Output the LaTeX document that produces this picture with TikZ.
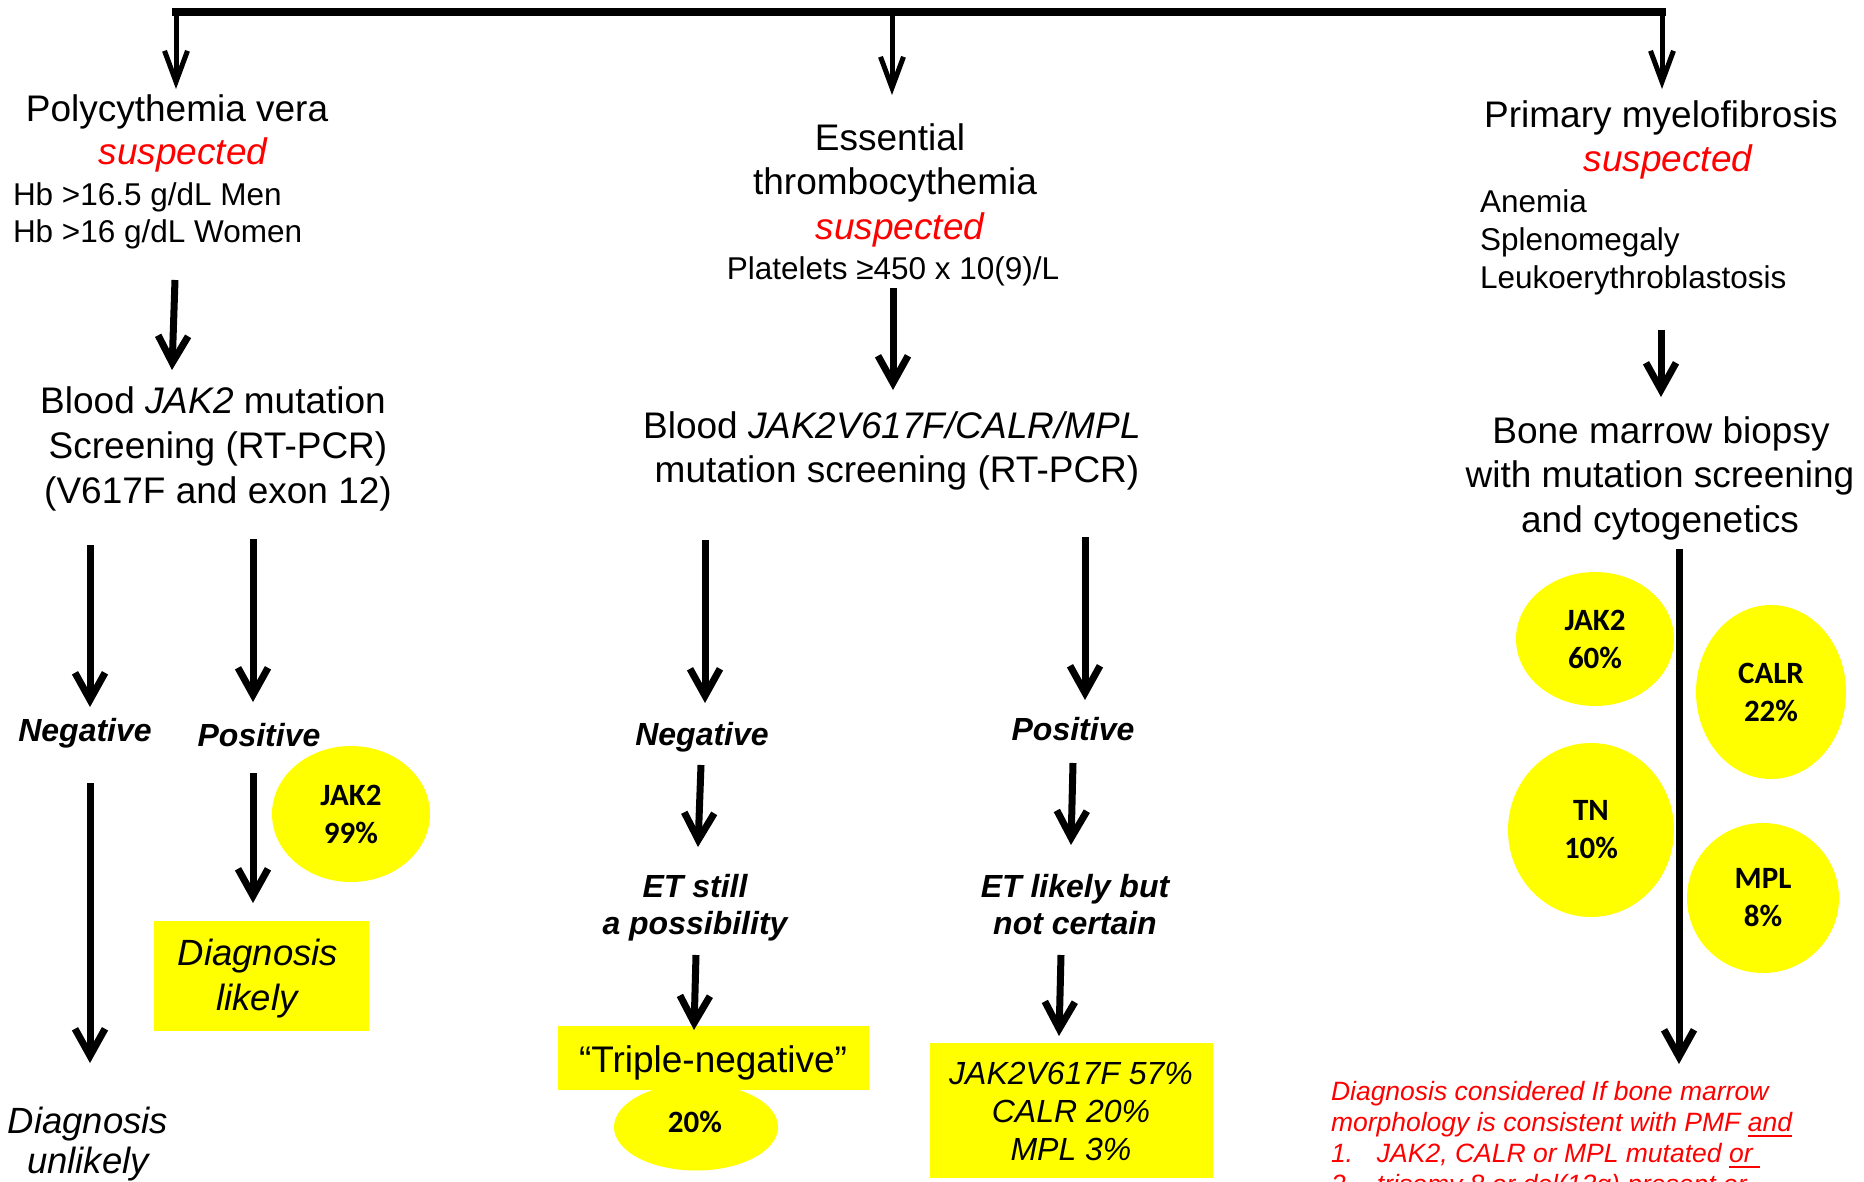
\documentclass[tikz,border=0pt]{standalone}
\usepackage{fontspec}
\setmainfont{Liberation Sans}
\newfontfamily\calfont{Carlito}
\usetikzlibrary{arrows.meta,shapes.geometric}
\definecolor{pured}{RGB}{255,0,0}
\definecolor{puyellow}{RGB}{255,255,0}
\newcommand\fsz[2]{\fontsize{#1}{#2}\selectfont}
\newcommand\redul[1]{\setbox0\hbox{#1}\rlap{\rule[-6pt]{\wd0}{2.5pt}}\box0}
\begin{document}
\begin{tikzpicture}[x=1pt,y=-1pt,
  every node/.style={inner sep=0pt, outer sep=0pt},
  tx/.style={anchor=base},
  big/.style={font=\fsz{37}{45}, anchor=base},
  bigit/.style={font=\itshape\fsz{36.5}{45}, anchor=base},
  susp/.style={font=\itshape\fsz{37}{45}, text=pured, anchor=base},
  mid/.style={font=\fsz{31.5}{38}, anchor=base},
  midw/.style={font=\fsz{31.5}{38}, anchor=base west},
  lab/.style={font=\bfseries\itshape\fsz{32}{38}, anchor=base},
  resit/.style={font=\itshape\fsz{32}{38}, anchor=base},
  redt/.style={font=\itshape\fsz{26.5}{31}, text=pured, anchor=base west},
  ybox/.style={fill=puyellow, draw=none, rectangle},
  yell/.style={ellipse, fill=puyellow, draw=none, align=center, font=\calfont\bfseries\fsz{31}{38}},
  arr/.style={line width=7pt, -{Straight Barb[length=27pt,width=30pt]}},
  toparr/.style={line width=5pt, -{Straight Barb[length=31pt,width=23pt]}},
]
\useasboundingbox (0,0) rectangle (1864,1182);
\clip (0,0) rectangle (1864,1182);
\fill[white] (0,0) rectangle (1864,1182);

% ---------- top bar ----------
\coordinate (tl) at (172,12);
\coordinate (tr) at (1666,12);
\draw[line width=8pt] (tl) -- (tr);
\coordinate (d1s) at (176,12);  \coordinate (d1e) at (176,89);
\coordinate (d2s) at (892,12);  \coordinate (d2e) at (892,95);
\coordinate (d3s) at (1662,12); \coordinate (d3e) at (1662,89);
\draw[toparr] (d1s) -- (d1e);
\draw[toparr] (d2s) -- (d2e);
\draw[toparr] (d3s) -- (d3e);

% ---------- yellow shapes ----------
\node[yell, minimum width=158pt, minimum height=136pt] (e99) at (351,814) {JAK2\\99\%};
\node[ybox, minimum width=215pt, minimum height=110pt] (dlbox) at (261.5,976) {};
\node[yell, minimum width=164pt, minimum height=87pt] (e20) at (696,1127) {};
\node[ybox, minimum width=311pt, minimum height=64pt] (tnbox) at (713.5,1058) {};
\node[ybox, minimum width=283pt, minimum height=135pt] (jbox) at (1071.5,1110.5) {};
\node[yell, minimum width=158pt, minimum height=134pt] (e60) at (1595,639) {JAK2\\60\%};
\node[yell, minimum width=150pt, minimum height=174pt] (e22) at (1771,692) {CALR\\22\%};
\node[yell, minimum width=166pt, minimum height=174pt] (e10) at (1591,830) {TN\\10\%};
\node[yell, minimum width=152pt, minimum height=150pt] (e8) at (1763,898) {MPL\\8\%};

% ---------- left column (PV) ----------
\node[big] (pv1) at (177,122) {Polycythemia vera};
\node[susp] (pv2) at (183,165) {suspected};
\node[midw] (hb1) at (13,206) {Hb >16.5 g/dL Men};
\node[midw] (hb2) at (13,243) {Hb >16 g/dL Women};
\node[big] (bj1) at (213,413) {Blood \textit{JAK2} mutation};
\node[big] (bj2) at (218,458) {Screening (RT-PCR)};
\node[big] (bj3) at (218,503) {(V617F and exon 12)};
\node[lab] (neg1) at (85,741) {Negative};
\node[lab] (pos1) at (259,746) {Positive};
\node[bigit] (dl1) at (258,965) {Diagnosis};
\node[bigit] (dl2) at (257,1010) {likely};
\node[bigit] (du1) at (88,1133) {Diagnosis};
\node[bigit] (du2) at (88,1173) {unlikely};

% ---------- centre column (ET) ----------
\node[big] (et1) at (890,151) {Essential};
\node[big] (et2) at (895,195) {thrombocythemia};
\node[susp] (et3) at (900,240) {suspected};
\node[mid] (et4) at (893,280) {Platelets ≥450 x 10(9)/L};
\node[big] (bc1) at (892,438) {Blood \textit{JAK2V617F/CALR/MPL}};
\node[big] (bc2) at (897,482) {mutation screening (RT-PCR)};
\node[lab] (neg2) at (702,745) {Negative};
\node[lab] (pos2) at (1073,740) {Positive};
\node[lab] (ets1) at (695,897) {ET still};
\node[lab] (ets2) at (695,934) {a possibility};
\node[lab] (etl1) at (1075,897) {ET likely but};
\node[lab] (etl2) at (1075,934) {not certain};
\node[big] (tn) at (713,1072) {“Triple-negative”};
\node[font=\calfont\bfseries\fsz{31}{38}, anchor=base] (t20) at (695,1132) {20\%};
\node[resit] (j1) at (1071,1084) {JAK2V617F 57\%};
\node[resit] (j2) at (1071,1122) {CALR 20\%};
\node[resit] (j3) at (1071,1160) {MPL 3\%};

% ---------- right column (PMF) ----------
\node[big] (pm1) at (1661,128) {Primary myelofibrosis};
\node[susp] (pm2) at (1668,172) {suspected};
\node[midw] (pl1) at (1480,213) {Anemia};
\node[midw] (pl2) at (1480,251) {Splenomegaly};
\node[midw] (pl3) at (1480,289) {Leukoerythroblastosis};
\node[big] (bm1) at (1661,443) {Bone marrow biopsy};
\node[big] (bm2) at (1660,487) {with mutation screening};
\node[big] (bm3) at (1660,532) {and cytogenetics};
\node[redt] (r1) at (1331,1100) {Diagnosis considered If bone marrow};
\node[redt] (r2) at (1331,1131) {morphology is consistent with PMF \redul{and}};
\node[redt] (r3) at (1331,1162) {\makebox[46pt][l]{1.}JAK2, CALR or MPL mutated \redul{or\ }};
\node[redt] (r4) at (1331,1193) {\makebox[46pt][l]{2.}trisomy 8 or del(13q) present or};

% ---------- arrow end points ----------
\coordinate (a1s) at (175,280);  \coordinate (a1e) at (172,370);
\coordinate (a2s) at (893,288);  \coordinate (a2e) at (893,390);
\coordinate (a3s) at (1661,330); \coordinate (a3e) at (1661,397);
\coordinate (a4s) at (90,545);   \coordinate (a4e) at (90,707);
\coordinate (a5s) at (253,539);  \coordinate (a5e) at (253,702);
\coordinate (a6s) at (253,773);  \coordinate (a6e) at (253,903);
\coordinate (a7s) at (90,783);   \coordinate (a7e) at (90,1063);
\coordinate (a8s) at (705,540);  \coordinate (a8e) at (705,703);
\coordinate (a9s) at (1085,537); \coordinate (a9e) at (1085,700);
\coordinate (a10s) at (701,765); \coordinate (a10e) at (698,847);
\coordinate (a11s) at (1073,763);\coordinate (a11e) at (1071,845);
\coordinate (a12s) at (696,955); \coordinate (a12e) at (694,1030);
\coordinate (a13s) at (1061,955);\coordinate (a13e) at (1059,1036);
\coordinate (a14s) at (1679,549);\coordinate (a14e) at (1679,1064);

\draw[arr] (a1s) -- (a1e);
\draw[arr] (a2s) -- (a2e);
\draw[arr] (a3s) -- (a3e);
\draw[arr] (a4s) -- (a4e);
\draw[arr] (a5s) -- (a5e);
\draw[arr] (a6s) -- (a6e);
\draw[arr] (a7s) -- (a7e);
\draw[arr] (a8s) -- (a8e);
\draw[arr] (a9s) -- (a9e);
\draw[arr] (a10s) -- (a10e);
\draw[arr] (a11s) -- (a11e);
\draw[arr] (a12s) -- (a12e);
\draw[arr] (a13s) -- (a13e);
\draw[arr] (a14s) -- (a14e);
\end{tikzpicture}
\end{document}
